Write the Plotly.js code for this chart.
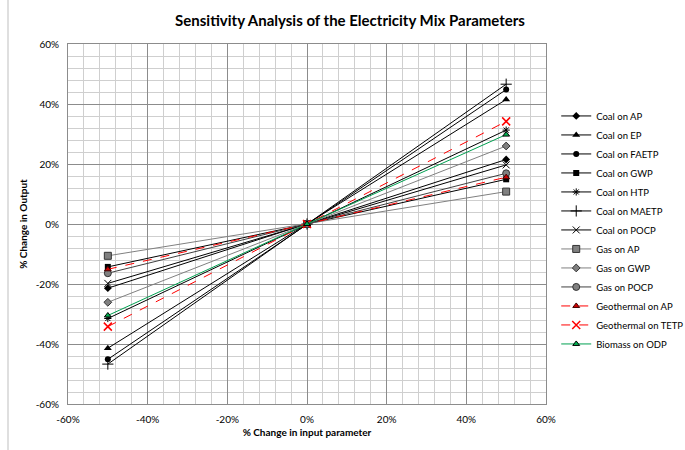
<!DOCTYPE html>
<html>
<head>
<meta charset="utf-8">
<script src="https://cdn.plot.ly/plotly-3.0.1.min.js"></script>
<style>html,body{margin:0;padding:0;background:#fff;}#chart{width:685px;height:450px;}</style>
</head>
<body>
<div id="chart"></div>
<script>
const xValues = [-50, 0, 50];
const seriesNames = ["Coal on AP","Coal on EP","Coal on FAETP","Coal on GWP","Coal on HTP","Coal on MAETP","Coal on POCP","Gas on AP","Gas on GWP","Gas on POCP","Geothermal on AP","Geothermal on TETP","Biomass on ODP"];
const coalAP = [-21.4, 0, 21.5];
const coalEP = [-41.4, 0, 41.5];
const coalFAETP = [-45.1, 0, 44.8];
const coalGWP = [-14.3, 0, 14.9];
const coalHTP = [-31.5, 0, 31.3];
const coalMAETP = [-46.7, 0, 46.6];
const coalPOCP = [-19.8, 0, 19.7];
const gasAP = [-10.6, 0, 10.8];
const gasGWP = [-26.1, 0, 26.0];
const gasPOCP = [-16.4, 0, 16.9];
const geoAP = [-15.1, 0, 15.6];
const geoTETP = [-34.2, 0, 34.2];
const biomassODP = [-30.5, 0, 29.8];
const tickVals = [-60, -40, -20, 0, 20, 40, 60];
const tickText = ["-60%","-40%","-20%","0%","20%","40%","60%"];

const values = [coalAP, coalEP, coalFAETP, coalGWP, coalHTP, coalMAETP, coalPOCP, gasAP, gasGWP, gasPOCP, geoAP, geoTETP, biomassODP];
const styles = [
  {line:{color:'#000',width:1}, marker:{symbol:'diamond', size:6, color:'#000'}},
  {line:{color:'#000',width:1}, marker:{symbol:'triangle-up', size:7, color:'#000'}},
  {line:{color:'#000',width:1}, marker:{symbol:'circle', size:6, color:'#000'}},
  {line:{color:'#000',width:1}, marker:{symbol:'square', size:6, color:'#000'}},
  {line:{color:'#000',width:1}, marker:{symbol:'asterisk-open', size:6, color:'#000', line:{color:'#000',width:1}}},
  {line:{color:'#000',width:1}, marker:{symbol:'cross-thin-open', size:8, color:'#000', line:{color:'#000',width:1}}},
  {line:{color:'#000',width:1}, marker:{symbol:'x-thin-open', size:7, color:'#000', line:{color:'#000',width:1}}},
  {line:{color:'#808080',width:1}, marker:{symbol:'square', size:7, color:'#808080', line:{color:'#333',width:1}}},
  {line:{color:'#808080',width:1}, marker:{symbol:'diamond', size:6, color:'#808080', line:{color:'#333',width:1}}},
  {line:{color:'#404040',width:1}, marker:{symbol:'circle', size:7, color:'#808080', line:{color:'#333',width:1}}},
  {line:{color:'#ff0000',width:1,dash:'dash'}, marker:{symbol:'triangle-up', size:6, color:'#cc0000', line:{color:'#400000',width:1}}},
  {line:{color:'#ff0000',width:1,dash:'dash'}, marker:{symbol:'x-thin-open', size:8, color:'#ff0000', line:{color:'#ff0000',width:1.5}}},
  {line:{color:'#00a050',width:1}, marker:{symbol:'triangle-up', size:6, color:'#00b050', line:{color:'#000',width:1}}}
];

const traces = seriesNames.map((name, i) => ({
  type:'scatter', mode:'lines+markers', name:name,
  x:xValues, y:values[i],
  line:styles[i].line, marker:styles[i].marker
}));

const font = "Lato, 'Open Sans', sans-serif";
const axisCommon = {
  tickvals: tickVals, ticktext: tickText,
  showgrid: true, gridcolor:'#8c8c8c', gridwidth:1,
  minor:{dtick:4, showgrid:true, gridcolor:'#cfcfcf', gridwidth:1, ticks:''},
  zeroline:false, showline:true, mirror:true, linecolor:'#8c8c8c', linewidth:1,
  ticks:'', tickfont:{family:font, size:10, color:'#000'}
};

const layout = {
  width:685, height:450,
  margin:{l:68, r:139, t:44, b:46},
  paper_bgcolor:'#fff', plot_bgcolor:'#fff',
  font:{family:font, color:'#000'},
  title:{text:'<b>Sensitivity Analysis of the Electricity Mix Parameters</b>', font:{family:font, size:15, color:'#000'}, x:0.511, xanchor:'center', y:0.955, yanchor:'middle'},
  xaxis:Object.assign({}, axisCommon, {range:[-60,60], ticklabelstandoff:6,
    title:{text:'<b>% Change in input parameter</b>', font:{family:font, size:10}, standoff:4}}),
  yaxis:Object.assign({}, axisCommon, {range:[-60,60], ticklabelstandoff:6,
    title:{text:'<b>% Change in Output</b>', font:{family:font, size:10}, standoff:6}}),
  legend:{xref:'container', yref:'container', x:0.812, xanchor:'left', y:0.489, yanchor:'middle', maxheight:440,
    font:{family:font, size:9.5, color:'#000'}, bgcolor:'rgba(0,0,0,0)', itemwidth:30},
  showlegend:true,
  shapes:[{type:'line', xref:'paper', yref:'paper', x0:(8-68)/478, x1:(8-68)/478, y0:-0.2, y1:1.2, line:{color:'#bfbfbf', width:1}}]
};

Plotly.newPlot('chart', traces, layout, {staticPlot:true});
</script>
</body>
</html>
